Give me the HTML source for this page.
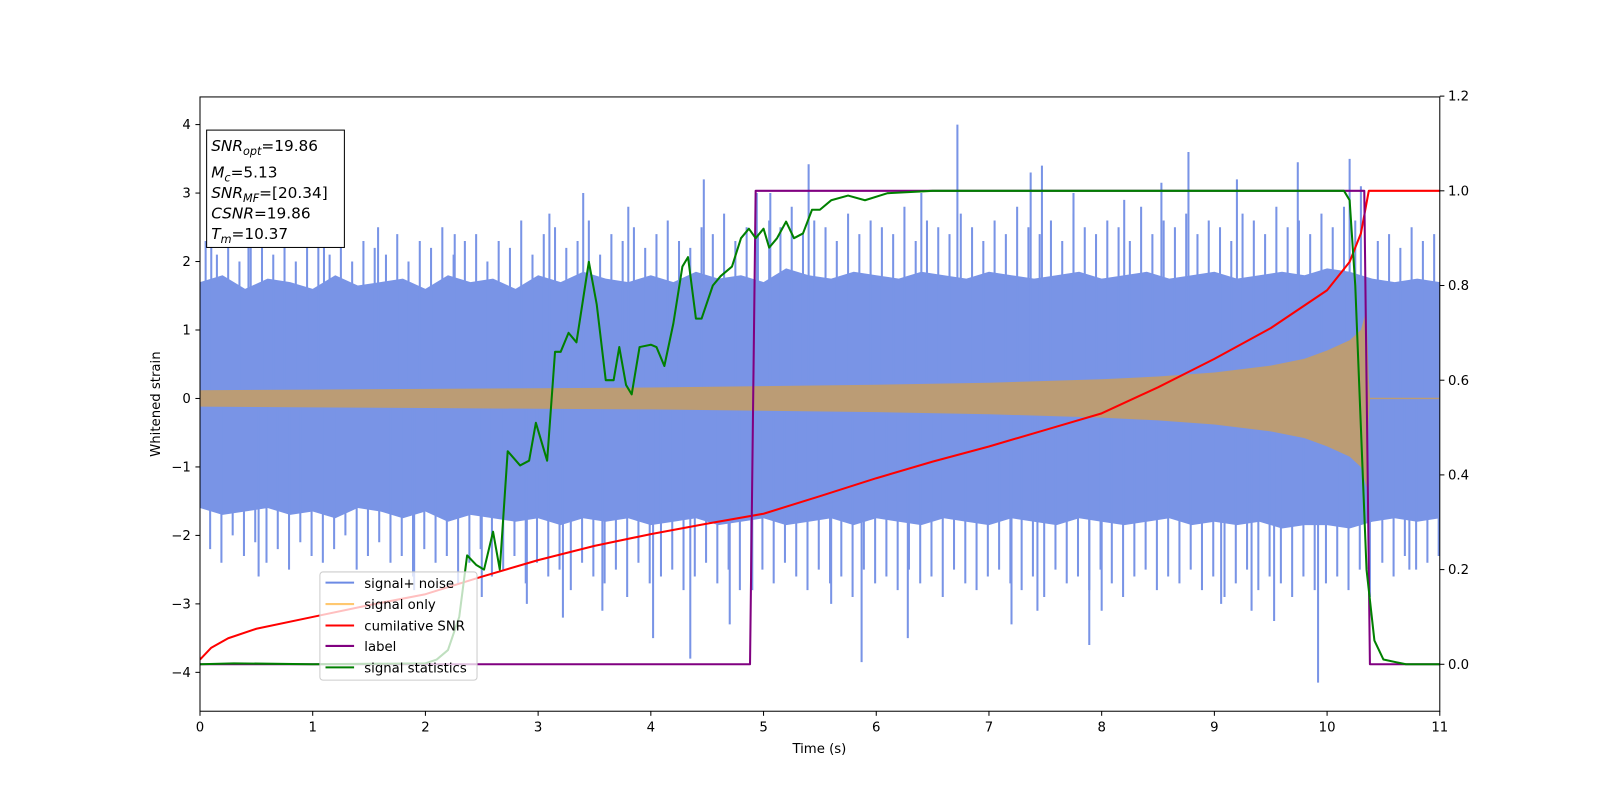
<!DOCTYPE html>
<html><head><meta charset="utf-8"><style>
html,body{margin:0;padding:0;background:#fff;}
svg{display:block;font-family:"DejaVu Sans","Liberation Sans",sans-serif;}
</style></head><body>
<svg id="chart" width="1600" height="800" viewBox="0 0 1568 784" xmlns="http://www.w3.org/2000/svg">
<rect width="1568" height="784" fill="#fff"/>
<defs><clipPath id="pc"><rect x="196" y="95" width="1215" height="602"/></clipPath></defs>
<g id="plot" clip-path="url(#pc)"></g>
<g id="axes"></g>
<g>
<rect x="202.5" y="127.5" width="135" height="115" fill="#fff" stroke="#000" stroke-width="1"/>
<text x="207" y="148" font-size="15"><tspan font-style="italic">SNR</tspan><tspan font-style="italic" font-size="11" dy="4">opt</tspan><tspan dy="-4">=19.86</tspan></text>
<text x="207" y="174" font-size="15"><tspan font-style="italic">M</tspan><tspan font-style="italic" font-size="11" dy="4">c</tspan><tspan dy="-4">=5.13</tspan></text>
<text x="207" y="194" font-size="15"><tspan font-style="italic">SNR</tspan><tspan font-style="italic" font-size="11" dy="4">MF</tspan><tspan dy="-4">=[20.34]</tspan></text>
<text x="207" y="214" font-size="15"><tspan font-style="italic">CSNR</tspan>=19.86</text>
<text x="207" y="234" font-size="15"><tspan font-style="italic">T</tspan><tspan font-style="italic" font-size="11" dy="4">m</tspan><tspan dy="-4">=10.37</tspan></text>
</g>
<g>
<rect x="313.5" y="560.5" width="154" height="106" rx="3" fill="#fff" fill-opacity="0.75" stroke="#ccc"/>
<line x1="319" y1="571" x2="347" y2="571" stroke="#6c8ae4" stroke-width="2"/><text x="357" y="576" font-size="13">signal+ noise</text>
<line x1="319" y1="592" x2="347" y2="592" stroke="#ffc870" stroke-width="2"/><text x="357" y="597" font-size="13">signal only</text>
<line x1="319" y1="613" x2="347" y2="613" stroke="red" stroke-width="2"/><text x="357" y="618" font-size="13">cumilative SNR</text>
<line x1="319" y1="633" x2="347" y2="633" stroke="purple" stroke-width="2"/><text x="357" y="638" font-size="13">label</text>
<line x1="319" y1="654" x2="347" y2="654" stroke="green" stroke-width="2"/><text x="357" y="659" font-size="13">signal statistics</text>
</g>
</svg>
<script>
const noiseT=[0,0.2,0.4,0.6,0.8,1,1.2,1.4,1.6,1.8,2,2.2,2.4,2.6,2.8,3,3.2,3.4,3.6,3.8,4,4.2,4.4,4.6,4.8,5,5.2,5.4,5.6,5.8,6,6.2,6.4,6.6,6.8,7,7.2,7.4,7.6,7.8,8,8.2,8.4,8.6,8.8,9,9.2,9.4,9.6,9.8,10,10.2,10.4,10.6,10.8,11];
const noiseUpper=[1.7,1.8,1.6,1.75,1.7,1.6,1.8,1.65,1.7,1.75,1.6,1.8,1.7,1.75,1.6,1.8,1.7,1.85,1.75,1.7,1.8,1.7,1.85,1.75,1.8,1.7,1.9,1.8,1.75,1.85,1.8,1.75,1.85,1.8,1.75,1.85,1.8,1.75,1.8,1.85,1.75,1.8,1.85,1.75,1.8,1.85,1.75,1.8,1.85,1.8,1.9,1.85,1.75,1.7,1.75,1.7];
const noiseLower=[-1.6,-1.7,-1.65,-1.6,-1.7,-1.65,-1.75,-1.6,-1.65,-1.75,-1.65,-1.8,-1.7,-1.75,-1.8,-1.75,-1.85,-1.75,-1.8,-1.75,-1.85,-1.8,-1.75,-1.85,-1.8,-1.75,-1.85,-1.8,-1.75,-1.85,-1.75,-1.8,-1.85,-1.75,-1.8,-1.85,-1.75,-1.8,-1.85,-1.75,-1.8,-1.85,-1.8,-1.75,-1.85,-1.8,-1.85,-1.8,-1.9,-1.85,-1.85,-1.9,-1.8,-1.75,-1.8,-1.75];
const spikeT=[0.1,0.43,0.52,1.1,1.58,2.26,2.5,3.1,3.22,3.4,3.57,4.02,4.35,4.47,4.7,4.9,4.94,5.06,5.4,5.87,6.28,6.72,7.2,7.37,7.43,7.47,7.75,7.89,8.2,8.53,8.77,9.06,9.33,9.53,9.74,9.92,10.2,10.3,10.38,10.73,1.9,2.9,3.8,5.6,6.4,8.0,9.2];
const spikeV=[2.6,2.6,-2.6,2.4,2.5,2.4,-2.9,2.7,-3.2,3.0,-3.1,-3.5,-3.8,3.2,-3.3,-2.8,3.0,3.0,3.42,-3.85,-3.5,4.0,-3.3,3.3,-3.1,3.4,3.0,-3.6,2.9,3.15,3.6,-3.0,-3.1,-3.25,3.45,-4.15,3.5,3.1,-2.9,-2.5,-2.8,-3.0,2.8,-3.0,3.0,-3.1,3.2];
const midT=[0.05,0.15,0.25,0.35,0.45,0.55,0.65,0.75,0.85,0.95,1.05,1.15,1.25,1.35,1.45,1.55,1.65,1.75,1.85,1.95,2.05,2.15,2.25,2.35,2.45,2.55,2.65,2.75,2.85,2.95,3.05,3.15,3.25,3.35,3.45,3.55,3.65,3.75,3.85,3.95,4.05,4.15,4.25,4.35,4.45,4.55,4.65,4.75,4.85,4.95,5.05,5.15,5.25,5.35,5.45,5.55,5.65,5.75,5.85,5.95,6.05,6.15,6.25,6.35,6.45,6.55,6.65,6.75,6.85,6.95,7.05,7.15,7.25,7.35,7.45,7.55,7.65,7.75,7.85,7.95,8.05,8.15,8.25,8.35,8.45,8.55,8.65,8.75,8.85,8.95,9.05,9.15,9.25,9.35,9.45,9.55,9.65,9.75,9.85,9.95,10.05,10.15,10.25,10.45,10.55,10.65,10.75,10.85,10.95];
const midUp=[2.3,2.1,2.4,2.0,2.2,2.5,2.1,2.3,2.0,2.4,2.2,2.1,2.7,2.0,2.3,2.2,2.1,2.4,2.0,2.3,2.2,2.5,2.1,2.3,2.4,2.0,2.3,2.2,2.6,2.1,2.4,2.5,2.2,2.3,2.6,2.1,2.4,2.3,2.5,2.2,2.4,2.6,2.3,2.2,2.5,2.4,2.7,2.3,2.5,2.4,2.6,2.5,2.8,2.4,2.6,2.5,2.3,2.7,2.4,2.6,2.5,2.4,2.8,2.3,2.6,2.5,2.4,2.7,2.5,2.3,2.6,2.4,2.8,2.5,2.4,2.6,2.3,2.7,2.5,2.4,2.6,2.5,2.3,2.8,2.4,2.6,2.5,2.7,2.4,2.6,2.5,2.3,2.7,2.6,2.4,2.8,2.5,2.6,2.4,2.7,2.5,2.8,2.6,2.3,2.4,2.2,2.5,2.3,2.4];
const midLo=[-2.2,-2.4,-2.0,-2.3,-2.1,-2.4,-2.2,-2.5,-2.1,-2.3,-2.4,-2.2,-2.0,-2.5,-2.3,-2.1,-2.4,-2.3,-2.6,-2.2,-2.4,-2.3,-2.7,-2.4,-2.2,-2.6,-2.5,-2.3,-2.7,-2.4,-2.6,-2.5,-2.8,-2.4,-2.6,-2.7,-2.5,-2.9,-2.4,-2.7,-2.6,-2.5,-2.8,-2.6,-2.4,-2.7,-2.5,-2.8,-2.6,-2.5,-2.7,-2.4,-2.6,-2.8,-2.5,-2.7,-2.6,-2.9,-2.5,-2.7,-2.6,-2.8,-2.5,-2.7,-2.6,-2.9,-2.5,-2.7,-2.8,-2.6,-2.5,-2.7,-2.8,-2.6,-2.9,-2.5,-2.7,-2.6,-2.8,-2.5,-2.7,-2.9,-2.6,-2.5,-2.8,-2.6,-2.7,-2.5,-2.8,-2.6,-2.9,-2.7,-2.5,-2.8,-2.6,-2.7,-2.9,-2.6,-2.8,-2.7,-2.6,-2.8,-2.5,-2.4,-2.6,-2.3,-2.5,-2.4,-2.3];
const sigT=[0,1,2,3,4,5,6,7,8,8.5,9,9.5,9.8,10,10.2,10.3,10.35,10.37,10.38,11];
const sigAmp=[0.12,0.13,0.14,0.15,0.16,0.18,0.2,0.23,0.28,0.32,0.38,0.48,0.58,0.7,0.85,1.0,1.3,0.3,0.01,0.01];
const snrT=[0,0.1,0.25,0.5,1,1.5,2,2.5,3,3.5,4,4.5,5,5.5,6,6.5,7,7.5,8,8.5,9,9.5,10,10.2,10.3,10.37,11];
const snrV=[0.01,0.035,0.055,0.075,0.1,0.125,0.148,0.185,0.22,0.25,0.275,0.297,0.318,0.355,0.393,0.428,0.46,0.495,0.53,0.585,0.645,0.71,0.79,0.85,0.91,1.0,1.0];
const labelT=[0,4.88,4.93,10.33,10.38,11];
const labelV=[0,0,1,1,0,0];
const statT=[0,0.3,1,2.0,2.1,2.2,2.3,2.37,2.45,2.52,2.6,2.66,2.73,2.84,2.92,2.98,3.08,3.15,3.2,3.27,3.34,3.45,3.52,3.6,3.67,3.72,3.78,3.83,3.9,4.0,4.05,4.12,4.2,4.28,4.33,4.4,4.45,4.55,4.62,4.72,4.8,4.87,4.93,5.0,5.05,5.12,5.2,5.27,5.35,5.43,5.5,5.6,5.75,5.9,6.1,6.5,10.15,10.2,10.25,10.3,10.35,10.42,10.5,10.7,11];
const statV=[0,0.002,0,0.002,0.01,0.03,0.1,0.23,0.21,0.2,0.28,0.2,0.45,0.42,0.43,0.51,0.43,0.66,0.66,0.7,0.68,0.85,0.76,0.6,0.6,0.67,0.59,0.57,0.67,0.675,0.67,0.63,0.72,0.84,0.86,0.73,0.73,0.8,0.82,0.84,0.9,0.92,0.9,0.92,0.88,0.9,0.935,0.9,0.91,0.96,0.96,0.98,0.99,0.98,0.995,1.0,1.0,0.98,0.8,0.5,0.2,0.05,0.01,0,0];
const xTicks=[0,1,2,3,4,5,6,7,8,9,10,11];
const yTicks=[-4,-3,-2,-1,0,1,2,3,4];
const y2Ticks=["0.0","0.2","0.4","0.6","0.8","1.0","1.2"];

const X=t=>196+t*(1215/11);
const Y=v=>390.5-v*67.1;
const Y2=v=>651-v*464;
const NS="http://www.w3.org/2000/svg";
const plot=document.getElementById('plot'),axes=document.getElementById('axes');
function mk(tag,attrs,parent){const e=document.createElementNS(NS,tag);for(const k in attrs)e.setAttribute(k,attrs[k]);parent.appendChild(e);return e;}

let d='M'+noiseT.map((t,i)=>X(t)+','+Y(noiseUpper[i])).join('L');
for(let i=noiseT.length-1;i>=0;i--)d+='L'+X(noiseT[i])+','+Y(noiseLower[i]);
const nb=mk('path',{d:d+'Z',fill:'#7994e6'},plot);


midT.forEach((t,i)=>{
const a=mk('line',{x1:X(t),x2:X(t),y1:Y(0),y2:Y(midUp[i]),stroke:'#7994e6','stroke-width':2},plot);


const b=mk('line',{x1:X(t+0.04),x2:X(t+0.04),y1:Y(0),y2:Y(midLo[i]),stroke:'#7994e6','stroke-width':2},plot);

});
spikeT.forEach((t,i)=>{const s=mk('line',{x1:X(t),x2:X(t),y1:Y(0),y2:Y(spikeV[i]),stroke:'#7994e6','stroke-width':2},plot);

});
let sd='M'+sigT.map((t,i)=>X(t)+','+Y(sigAmp[i])).join('L');
for(let i=sigT.length-1;i>=0;i--)sd+='L'+X(sigT[i])+','+Y(-sigAmp[i]);
const sb=mk('path',{d:sd+'Z',fill:'#bb9c75'},plot);


function line(ts,vs,color,name){const p=mk('polyline',{points:ts.map((t,i)=>X(t)+','+Y2(vs[i])).join(' '),fill:'none',stroke:color,'stroke-width':2,'stroke-linejoin':'round'},plot);

}
line(snrT,snrV,'red','cumulative-snr-line');
line(labelT,labelV,'purple','label-line');
line(statT,statV,'green','signal-statistics-line');

const fr=mk('rect',{x:196,y:95,width:1215,height:602,fill:'none',stroke:'#000','stroke-width':1},axes);


xTicks.forEach(t=>{mk('line',{x1:X(t),x2:X(t),y1:697,y2:701.5,stroke:'#000'},axes);
const tx=mk('text',{x:X(t),y:717,'font-size':13,'text-anchor':'middle'},axes);tx.textContent=t;

});
yTicks.forEach(v=>{mk('line',{x1:191.5,x2:196,y1:Y(v),y2:Y(v),stroke:'#000'},axes);
const tx=mk('text',{x:187,y:Y(v)+4.5,'font-size':13,'text-anchor':'end'},axes);tx.textContent=v<0?'\u2212'+(-v):v;

});
y2Ticks.forEach(s=>{const v=parseFloat(s);mk('line',{x1:1411,x2:1415.5,y1:Y2(v),y2:Y2(v),stroke:'#000'},axes);
const tx=mk('text',{x:1419,y:Y2(v)+4.5,'font-size':13},axes);tx.textContent=s;

});
const xl=mk('text',{x:803,y:738,'font-size':13,'text-anchor':'middle'},axes);xl.textContent='Time (s)';


const yl=mk('text',{x:157,y:396,'font-size':13,'text-anchor':'middle',transform:'rotate(-90 157 396)'},axes);yl.textContent='Whitened strain';


</script>
</body></html>
